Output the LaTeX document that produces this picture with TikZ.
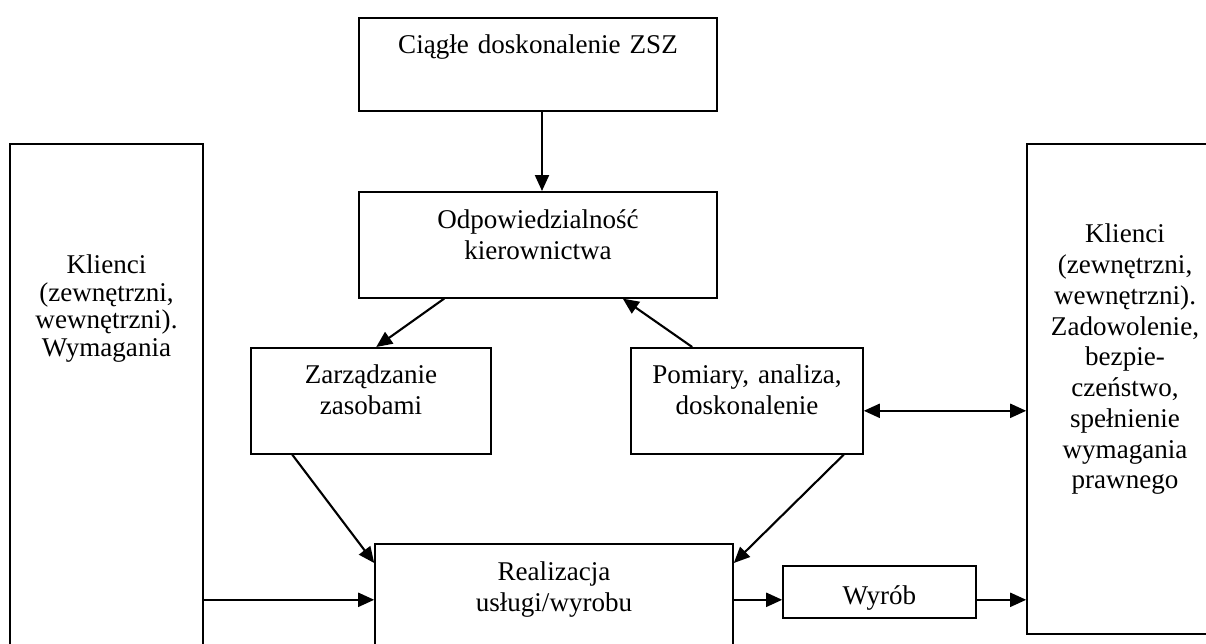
\documentclass[tikz,border=0pt]{standalone}
\usepackage{amssymb,amsmath}
\usepackage{color}
\usepackage{fontspec}
\setmainfont{Liberation Serif}
\usepackage{tikz}
\usetikzlibrary{arrows.meta}

\tikzset{
  box/.style={draw, line width=0.9pt, rectangle, anchor=north, align=center,
    inner xsep=0.1cm, inner ysep=0pt,
    font=\fontsize{15.4}{17.5}\selectfont},
  arr/.style={line width=1.2pt, -{Triangle[length=0.32cm,width=0.28cm]}},
  darr/.style={line width=1.2pt, {Triangle[length=0.32cm,width=0.28cm]}-{Triangle[length=0.32cm,width=0.28cm]}}
}

\begin{document}
\begin{tikzpicture}
        \useasboundingbox (0,0) rectangle (24.12,-12.86);
        \begin{scope}
        \clip (0,0) rectangle (24.12,-12.86);
        \node[box, text width=6.96cm, text height=0.72cm, text depth=1.14cm] (ciagle) at (10.76,-0.34) {Ciągłe doskonalenie ZSZ};
        \node[box, text width=6.96cm, text height=0.74cm, text depth=1.38cm] (odp)    at (10.76,-3.82) {Odpowiedzialność\\kierownictwa};
        \node[box, text width=4.60cm, text height=0.72cm, text depth=1.40cm] (zarz)   at (7.42,-6.94)  {Zarządzanie\\zasobami};
        \node[box, text width=4.44cm, text height=0.72cm, text depth=1.40cm] (pom)    at (14.94,-6.94) {Pomiary, analiza,\\doskonalenie};
        \node[box, text width=3.66cm, text height=2.60cm, text depth=7.74cm,
              font=\fontsize{15.4}{15.6}\selectfont] (klL) at (2.13,-2.86) {Klienci\\(zewnętrzni,\\wewnętrzni).\\Wymagania};
        \node[box, text width=3.72cm, text height=1.98cm, text depth=7.82cm] (klR)    at (22.50,-2.86) {Klienci\\(zewnętrzni,\\wewnętrzni).\\Zadowolenie,\\bezpie-\\czeństwo,\\spełnienie\\wymagania\\prawnego};
        \node[box, text width=6.96cm, text height=0.74cm, text depth=1.80cm] (real)   at (11.08,-10.86) {Realizacja\\usługi/wyrobu};
        \node[box, text width=3.66cm, text height=0.78cm, text depth=0.26cm] (wyrob)  at (17.59,-11.30) {Wyrób};
        \end{scope}
        \draw[arr] ([xshift=0.08cm]ciagle.south) -- ([xshift=0.08cm]odp.north);
        \draw[arr] ([xshift=1.72cm]odp.south west) -- ([xshift=2.52cm]zarz.north west);
        \draw[arr] ([xshift=1.24cm]pom.north west) -- ([xshift=-1.9cm]odp.south east);
        \draw[arr] ([xshift=0.84cm]zarz.south west) -- ([yshift=-0.4cm]real.north west);
        \draw[arr] ([xshift=-0.4cm]pom.south east) -- ([yshift=-0.4cm]real.north east);
        \draw[darr] ([yshift=-0.2cm]pom.east) -- ([yshift=-0.2cm]pom.east -| klR.west);
        \draw[arr] ([yshift=-0.16cm]wyrob.west -| klL.east) -- ([yshift=-0.16cm]wyrob.west -| real.west);
        \draw[arr] ([yshift=-0.16cm]wyrob.west -| real.east) -- ([yshift=-0.16cm]wyrob.west);
        \draw[arr] ([yshift=-0.16cm]wyrob.east) -- ([yshift=-0.16cm]wyrob.east -| klR.west);
\end{tikzpicture}
\end{document}
